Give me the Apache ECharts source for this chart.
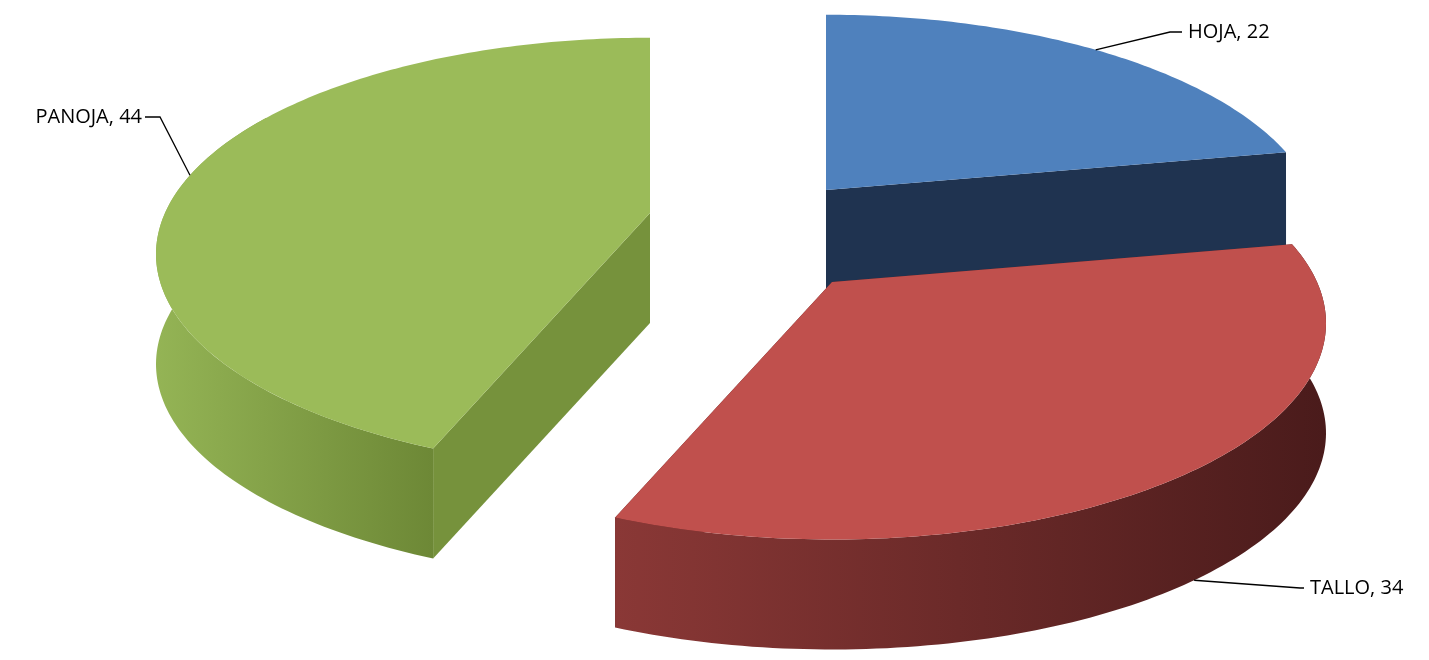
<!DOCTYPE html>
<html>
<head>
<meta charset="utf-8">
<script src="https://cdn.jsdelivr.net/npm/echarts@6/dist/echarts.min.js"></script>
<style>
    html, body { margin: 0; padding: 0; background: #fff; }
    #chart { width: 1429px; height: 660px; }
</style>
</head>
<body>
<div id="chart"></div>
<script>
const categories = ['HOJA', 'TALLO', 'PANOJA']
const values = [22, 34, 44]

// estilo de cada porción: vértice desplazado, colores y posición de etiqueta
const sliceStyle = [
    {vx: 826, vy: 190, top: '#4F81BD', wall: ['#2a4466', '#1F3350'], cut: '#1F3350', label: [1188, 25], elbow: [1170, 32]},
    {vx: 832, vy: 282, top: '#C0504D', wall: ['#8a3836', '#4a1b1b'], cut: '#5a2221', label: [1310, 580], elbow: [1300, 588]},
    {vx: 650, vy: 213, top: '#9BBB59', wall: ['#94b455', '#6d8836'], cut: '#76923C', label: [15, 108], elbow: [160, 117]}
]

const R = 485
const TILT = 0.43
const K = 0.19
const DEPTH = 110
const drawOrder = [2, 0, 1]

function proj(st, deg, r, dz) {
    const a = deg * Math.PI / 180
    const s = 1 / (1 + K * Math.cos(a))
    return [st.vx + R * r * Math.sin(a) * s, st.vy - R * TILT * r * Math.cos(a) * s + dz]
}

function arc(st, a0, a1, dz) {
    const pts = []
    const n = Math.max(2, Math.ceil(Math.abs(a1 - a0)))
    for (let i = 0; i <= n; i++) {
        pts.push(proj(st, a0 + (a1 - a0) * i / n, 1, dz))
    }
    return pts
}

function angles() {
    const total = values.reduce((a, b) => a + b, 0)
    const res = []
    let acc = 0
    values.forEach(v => {
        res.push([acc / total * 360, (acc + v) / total * 360])
        acc += v
    })
    return res
}

const sliceAngles = angles()

function cutFace(st, deg) {
    const c0 = proj(st, 0, 0, 0)
    const e0 = proj(st, deg, 1, 0)
    return {
        type: 'polygon',
        shape: {points: [c0, e0, [e0[0], e0[1] + DEPTH], [c0[0], c0[1] + DEPTH]]},
        style: {fill: st.cut}
    }
}

function renderSlice(params, api) {
    const idx = drawOrder[params.dataIndex]
    const st = sliceStyle[idx]
    const [a0, a1] = sliceAngles[idx]
    const children = []

    children.push(cutFace(st, a0))
    children.push(cutFace(st, a1))

    // pared exterior visible (parte frontal)
    const f0 = Math.max(a0, 60)
    const f1 = Math.min(a1, 300)
    if (a1 > 90 && a0 < 270 && f1 > f0) {
        const topArc = arc(st, f0, f1, 0)
        const botArc = arc(st, f1, f0, DEPTH)
        children.push({
            type: 'polygon',
            shape: {points: topArc.concat(botArc)},
            style: {
                fill: {
                    type: 'linear', x: 0, y: 0, x2: 1, y2: 0,
                    colorStops: [
                        {offset: 0, color: st.wall[0]},
                        {offset: 1, color: st.wall[1]}
                    ]
                }
            }
        })
    }

    // cara superior
    const topPts = [proj(st, 0, 0, 0)].concat(arc(st, a0, a1, 0))
    children.push({type: 'polygon', shape: {points: topPts}, style: {fill: st.top}})

    // etiqueta con línea guía
    const mid = (a0 + a1) / 2
    const onFront = Math.cos(mid * Math.PI / 180) < 0
    const anchor = proj(st, mid, 1, onFront ? DEPTH : 0)
    const isLeft = st.label[0] < anchor[0]
    const lineEnd = isLeft ? [st.elbow[0] - 15, st.elbow[1]] : [st.label[0] - 6, st.elbow[1]]
    children.push({
        type: 'polyline',
        shape: {points: [anchor, st.elbow, lineEnd]},
        style: {stroke: '#000', lineWidth: 1.3, fill: null}
    })
    children.push({
        type: 'text',
        x: isLeft ? st.elbow[0] - 18 : st.label[0],
        y: st.elbow[1],
        style: {
            text: categories[idx] + ', ' + values[idx],
            fill: '#000',
            font: '20px "Open Sans", sans-serif',
            align: isLeft ? 'right' : 'left',
            verticalAlign: 'middle'
        }
    })

    return {type: 'group', children: children}
}

const chart = echarts.init(document.getElementById('chart'))
chart.setOption({
    animation: false,
    series: [{
        type: 'custom',
        coordinateSystem: 'none',
        renderItem: renderSlice,
        data: drawOrder.map(i => values[i])
    }]
})
</script>
</body>
</html>
